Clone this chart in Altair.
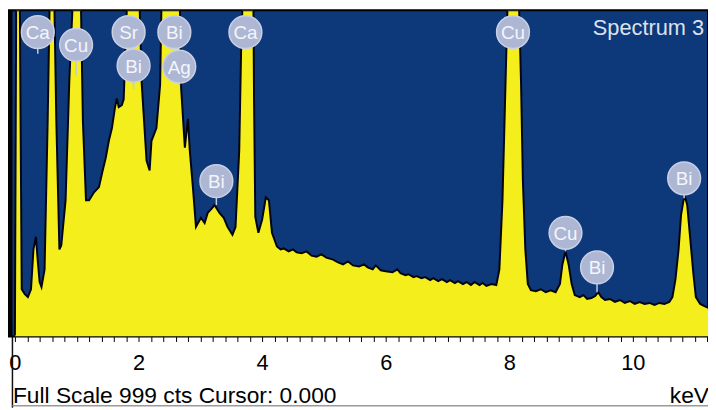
import altair as alt
import pandas as pd

# EDS spectrum trace (energy in keV, counts; full scale = 1000)
kev = [0.00, 0.02, 0.08, 0.11, 0.16, 0.21, 0.26, 0.30, 0.34, 0.37, 0.40, 0.43, 0.48, 0.53, 0.56, 0.64,
       0.67, 0.72, 0.75, 0.82, 0.88, 0.93, 1.07, 1.10, 1.15, 1.20, 1.28, 1.36, 1.42, 1.47, 1.52, 1.57,
       1.62, 1.65, 1.68, 1.73, 1.76, 1.81, 2.02, 2.05, 2.08, 2.13, 2.18, 2.21, 2.29, 2.35, 2.37, 2.67,
       2.69, 2.75, 2.80, 2.83, 2.88, 2.93, 3.01, 3.07, 3.12, 3.18, 3.23, 3.31, 3.38, 3.44, 3.52, 3.57,
       3.63, 3.66, 3.68, 3.86, 3.87, 3.89, 3.94, 4.00, 4.06, 4.11, 4.16, 4.24, 4.30, 4.35, 4.43, 4.50,
       4.56, 4.64, 4.72, 4.80, 4.88, 4.96, 5.04, 5.15, 5.23, 5.31, 5.39, 5.47, 5.57, 5.65, 5.71, 5.79,
       5.84, 5.92, 6.00, 6.11, 6.19, 6.24, 6.32, 6.37, 6.45, 6.50, 6.58, 6.64, 6.72, 6.77, 6.85, 6.91,
       6.99, 7.04, 7.12, 7.17, 7.25, 7.31, 7.38, 7.44, 7.52, 7.57, 7.63, 7.71, 7.79, 7.84, 7.89, 7.94,
       7.97, 8.16, 8.19, 8.22, 8.26, 8.30, 8.35, 8.43, 8.51, 8.59, 8.67, 8.75, 8.82, 8.86, 8.91, 8.96,
       9.01, 9.06, 9.14, 9.20, 9.26, 9.33, 9.39, 9.44, 9.49, 9.55, 9.63, 9.71, 9.79, 9.87, 9.95, 10.03,
       10.11, 10.19, 10.27, 10.35, 10.43, 10.51, 10.59, 10.64, 10.69, 10.74, 10.78, 10.82, 10.85, 10.88,
       10.93, 10.98, 11.02, 11.09, 11.15, 11.22]
counts = [3, 1000, 1000, 145, 130, 121, 145, 267, 306, 230, 167, 152, 206, 661, 1000, 1000,
          661, 267, 279, 418, 782, 1000, 1000, 661, 418, 418, 442, 458, 509, 548, 600, 639,
          703, 730, 703, 709, 727, 1000, 1000, 782, 691, 539, 509, 600, 639, 773, 1000, 1000,
          761, 579, 667, 570, 458, 336, 364, 348, 379, 391, 403, 379, 364, 336, 312, 336,
          570, 873, 1000, 1000, 721, 367, 318, 358, 427, 418, 318, 276, 267, 270, 261, 267,
          258, 255, 261, 248, 245, 252, 242, 236, 227, 221, 230, 218, 215, 221, 212, 206,
          218, 203, 200, 197, 206, 194, 188, 191, 182, 185, 179, 182, 173, 179, 170, 176,
          167, 173, 164, 170, 161, 167, 158, 167, 158, 164, 155, 161, 158, 206, 418, 782,
          1000, 1000, 782, 479, 267, 161, 142, 139, 145, 136, 142, 136, 161, 221, 261, 221,
          161, 127, 121, 127, 115, 118, 124, 136, 121, 112, 115, 106, 112, 103, 109, 100,
          106, 100, 103, 97, 103, 100, 106, 121, 176, 267, 373, 418, 424, 403,
          297, 191, 121, 100, 94, 88]

# Element labels
label_el = ["Ca", "Cu", "Sr", "Bi", "Bi", "Ag", "Bi", "Ca", "Cu", "Cu", "Bi", "Bi"]
label_kev = [0.37, 0.99, 1.84, 1.92, 2.58, 2.66, 3.26, 3.73, 8.06, 8.91, 9.42, 10.83]
label_pos = [933, 894, 933, 830, 933, 827, 476, 933, 933, 318, 212, 485]
label_stem = [867, 800, 933, 758, 933, 767, 403, 933, 933, 261, 136, 424]

tick_values = [round(i * 0.2, 1) for i in range(0, 57)]

NAVY = "#0d387a"
YELLOW = "#f4ee1c"
FONT = "Liberation Sans"

spec = pd.DataFrame({"keV": kev, "counts": counts})
labels = pd.DataFrame({"keV": label_kev, "counts": label_pos, "stem": label_stem, "el": label_el})

xscale = alt.Scale(domain=[-0.112, 11.216], nice=False, zero=False)
yscale = alt.Scale(domain=[0, 1000], nice=False)
xaxis = alt.Axis(
    values=tick_values, title=None, domain=False, grid=False,
    tickSize=5, tickColor="#000000", tickWidth=1,
    labelExpr="datum.value % 2 === 0 ? format(datum.value, 'd') : ''",
    labelFont=FONT, labelFontSize=22, labelColor="#000000", labelPadding=11,
    labelOverlap=False, labelFlush=False,
)

X = alt.X("keV:Q", scale=xscale, axis=xaxis)
Y = alt.Y("counts:Q", scale=yscale, axis=None)

area = alt.Chart(spec).mark_area(color=YELLOW, clip=True, interpolate="linear").encode(x=X, y=Y)
edge = alt.Chart(spec).mark_line(color="#050510", strokeWidth=2, clip=True).encode(x=X, y=Y)

stems = alt.Chart(labels).mark_rule(color="#c3cadf", strokeWidth=1.5).encode(
    x=X, y=Y, y2="stem:Q"
)
circles = alt.Chart(labels).mark_point(
    shape="circle", filled=True, size=1100, fill="#adb7d4", opacity=1,
    stroke="#c9d0e4", strokeWidth=1.5
).encode(x=X, y=Y)
texts = alt.Chart(labels).mark_text(
    font=FONT, fontSize=19, color="#f3f5fb", align="center", baseline="middle", dy=1
).encode(x=X, y=Y, text="el:N")

title_txt = alt.Chart(pd.DataFrame({"t": ["Spectrum 3"]})).mark_text(
    font=FONT, fontSize=22, color="#dde1ec", align="right", baseline="alphabetic"
).encode(x=alt.value(704), y=alt.value(25), text="t:N")

footer = alt.Chart(pd.DataFrame({"t": ["Full Scale 999 cts Cursor: 0.000"]})).mark_text(
    font=FONT, fontSize=23, color="#000000", align="left", baseline="alphabetic"
).encode(x=alt.value(5), y=alt.value(397), text="t:N")

unit = alt.Chart(pd.DataFrame({"t": ["keV"]})).mark_text(
    font=FONT, fontSize=23, color="#000000", align="right", baseline="alphabetic"
).encode(x=alt.value(709), y=alt.value(397), text="t:N")

frame_df = pd.DataFrame({"k": [0]})
left_dark = alt.Chart(frame_df).mark_rule(color="#000000", strokeWidth=4).encode(
    x=alt.value(2.5), y=alt.value(0), y2=alt.value(330)
)
left_line = alt.Chart(frame_df).mark_rule(color="#111111", strokeWidth=1.5).encode(
    x=alt.value(4.5), y=alt.value(330), y2=alt.value(402)
)
bottom_line = alt.Chart(frame_df).mark_rule(color="#9a9a9a", strokeWidth=1.5).encode(
    x=alt.value(4.5), x2=alt.value(708), y=alt.value(400)
)

chart = alt.layer(
    area, edge, left_dark, stems, circles, texts, title_txt, footer, unit, left_line, bottom_line
).properties(
    width=708, height=330,
    autosize=alt.AutoSizeParams(type="none"),
    padding={"left": 0, "top": 0, "right": 0, "bottom": 72},
    background="#ffffff",
).configure_view(
    fill=NAVY, stroke="#000000", strokeWidth=2
)

chart.save("out.html", embed_options={"renderer": "svg", "actions": False})
